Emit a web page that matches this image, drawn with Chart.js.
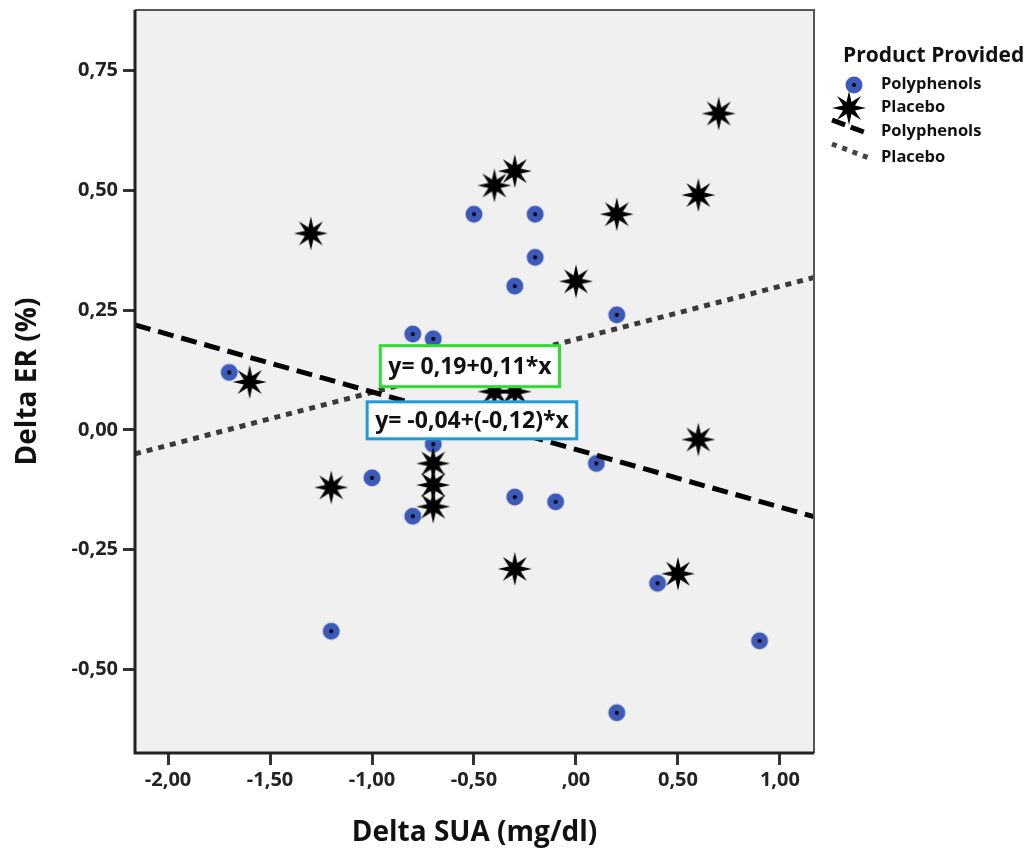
<!DOCTYPE html>
<html>
<head>
<meta charset="utf-8">
<script src="https://cdn.jsdelivr.net/npm/chart.js@4.4.1/dist/chart.umd.min.js"></script>
<style>
  html, body { margin: 0; padding: 0; background: #fff; }
  #wrap { width: 1034px; height: 856px; position: relative; }
</style>
</head>
<body>
<div id="wrap"><canvas id="myChart" width="1034" height="856"></canvas></div>
<script>
// values
const polyX = [-1.7, -0.8, -0.7, -0.5, -0.2, -0.2, -0.3, 0.2, -1.0, -0.8, -0.7, -0.3, -0.1, 0.1, 0.4, -1.2, 0.9, 0.2];
const polyY = [0.12, 0.20, 0.19, 0.45, 0.45, 0.36, 0.30, 0.24, -0.10, -0.18, -0.03, -0.14, -0.15, -0.07, -0.32, -0.42, -0.44, -0.59];

const placeboX = [-1.3, -0.4, -0.3, 0.7, 0.6, 0.2, 0.0, -1.6, -0.4, -0.3, -0.2, -1.2, -0.7, -0.7, -0.7, -0.3, 0.5, 0.6];
const placeboY = [0.41, 0.51, 0.54, 0.66, 0.49, 0.45, 0.31, 0.10, 0.08, 0.08, 0.14, -0.12, -0.07, -0.115, -0.16, -0.29, -0.30, -0.02];

// fit line end points (at the plot edges)
const polyFitX = [-2.162, 1.167];
const polyFitY = [0.219, -0.181];
const placeboFitX = [-2.162, 1.167];
const placeboFitY = [-0.05, 0.318];

const fitLabels = ['y= 0,19+0,11*x', 'y= -0,04+(-0,12)*x'];
const fitLabelX = [-0.52, -0.51];
const fitLabelY = [0.133, 0.02];

const xTicks = [-2, -1.5, -1, -0.5, 0, 0.5, 1];
const xTickLabels = ['-2,00', '-1,50', '-1,00', '-0,50', ',00', '0,50', '1,00'];
const yTicks = [-0.5, -0.25, 0, 0.25, 0.5, 0.75];
const yTickLabels = ['-0,50', '-0,25', '0,00', '0,25', '0,50', '0,75'];

const legendLabels = ['Polyphenols', 'Placebo', 'Polyphenols', 'Placebo'];

const FONT = "'Open Sans', 'DejaVu Sans', sans-serif";
const BLUE = '#3d5ab8';

const makeDot = () => {
  const c = document.createElement('canvas');
  c.width = 20; c.height = 20;
  const g = c.getContext('2d');
  g.fillStyle = BLUE;
  g.beginPath(); g.arc(10, 10, 8.5, 0, Math.PI * 2); g.fill();
  g.fillStyle = '#000';
  g.beginPath(); g.arc(10, 10, 2, 0, Math.PI * 2); g.fill();
  return c;
};

const makeStar = () => {
  const c = document.createElement('canvas');
  c.width = 36; c.height = 36;
  const g = c.getContext('2d');
  g.fillStyle = '#000';
  g.beginPath();
  for (let i = 0; i < 16; i++) {
    const r = i % 2 === 0 ? 17 : 6.5;
    const a = i * Math.PI / 8 - Math.PI / 2;
    const px = 18 + r * Math.cos(a), py = 18 + r * Math.sin(a);
    if (i === 0) g.moveTo(px, py); else g.lineTo(px, py);
  }
  g.closePath();
  g.fill();
  return c;
};

const dotImg = makeDot();
const starImg = makeStar();

const toPoints = (xs, ys) => xs.map((x, i) => ({ x: x, y: ys[i] }));

// grey plot background and frame
const framePlugin = {
  id: 'frame',
  beforeDatasetsDraw(chart) {
    const { ctx, chartArea: a } = chart;
    ctx.save();
    ctx.fillStyle = '#f0f0f0';
    ctx.fillRect(a.left, a.top, a.right - a.left, a.bottom - a.top);
    ctx.restore();
  },
  afterDatasetsDraw(chart) {
    const { ctx, chartArea: a } = chart;
    ctx.save();
    ctx.lineWidth = 2;
    ctx.strokeStyle = '#555';
    ctx.beginPath();
    ctx.moveTo(a.left, a.top); ctx.lineTo(a.right, a.top); ctx.lineTo(a.right, a.bottom);
    ctx.stroke();
    ctx.lineWidth = 3;
    ctx.strokeStyle = '#222';
    ctx.beginPath();
    ctx.moveTo(a.left, a.top); ctx.lineTo(a.left, a.bottom); ctx.lineTo(a.right, a.bottom);
    ctx.stroke();
    ctx.restore();
  }
};

// equation boxes over the fit lines
const fitLabelPlugin = {
  id: 'fitLabels',
  afterDatasetsDraw(chart) {
    const { ctx, scales } = chart;
    const colors = ['#2fdc2f', '#1e9bd8'];
    ctx.save();
    ctx.font = 'bold 23px ' + FONT;
    ctx.textBaseline = 'middle';
    ctx.textAlign = 'center';
    fitLabels.forEach((txt, i) => {
      const cx = scales.x.getPixelForValue(fitLabelX[i]);
      const cy = scales.y.getPixelForValue(fitLabelY[i]);
      const w = ctx.measureText(txt).width + 16;
      const h = i === 0 ? 41 : 37;
      ctx.fillStyle = '#fff';
      ctx.fillRect(cx - w / 2, cy - h / 2, w, h);
      ctx.lineWidth = 3;
      ctx.strokeStyle = colors[i];
      ctx.strokeRect(cx - w / 2, cy - h / 2, w, h);
      ctx.fillStyle = '#111';
      ctx.fillText(txt, cx, cy + 1);
    });
    ctx.restore();
  }
};

// legend on the right
const legendPlugin = {
  id: 'sideLegend',
  afterDraw(chart) {
    const { ctx } = chart;
    const x0 = chart.chartArea.right + 30;
    ctx.save();
    ctx.fillStyle = '#111';
    ctx.textBaseline = 'middle';
    ctx.textAlign = 'left';
    ctx.font = 'bold 21px ' + FONT;
    ctx.fillText('Product Provided', x0 - 1, 56);

    ctx.drawImage(dotImg, x0, 75);
    ctx.drawImage(starImg, x0 - 13, 90);

    ctx.lineWidth = 5;
    ctx.strokeStyle = '#000';
    ctx.setLineDash([14, 6]);
    ctx.beginPath(); ctx.moveTo(x0 - 12, 120); ctx.lineTo(x0 + 25, 134); ctx.stroke();
    ctx.strokeStyle = '#444';
    ctx.setLineDash([5, 6]);
    ctx.beginPath(); ctx.moveTo(x0 - 12, 144); ctx.lineTo(x0 + 25, 158); ctx.stroke();
    ctx.setLineDash([]);

    ctx.fillStyle = '#111';
    ctx.font = 'bold 16.5px ' + FONT;
    const ys = [84, 107, 131, 157];
    legendLabels.forEach((t, i) => ctx.fillText(t, x0 + 37, ys[i]));
    ctx.restore();
  }
};

new Chart('myChart', {
  type: 'scatter',
  data: {
    datasets: [{
      label: 'Polyphenols fit',
      type: 'line',
      data: toPoints(polyFitX, polyFitY),
      borderColor: '#000',
      borderWidth: 5,
      borderDash: [16, 8],
      pointRadius: 0,
      fill: false,
      order: 0
    }, {
      label: 'Placebo fit',
      type: 'line',
      data: toPoints(placeboFitX, placeboFitY),
      borderColor: '#3a3a3a',
      borderWidth: 5,
      borderDash: [6, 6],
      pointRadius: 0,
      fill: false,
      order: 0
    }, {
      label: 'Placebo',
      data: toPoints(placeboX, placeboY),
      pointStyle: starImg,
      pointRadius: 17,
      order: 1
    }, {
      label: 'Polyphenols',
      data: toPoints(polyX, polyY),
      pointStyle: dotImg,
      pointRadius: 9,
      order: 2
    }]
  },
  options: {
    responsive: false,
    animation: false,
    events: [],
    layout: { autoPadding: false, padding: { top: 10, right: 220, left: 0, bottom: 0 } },
    plugins: { legend: { display: false }, tooltip: { enabled: false } },
    scales: {
      x: {
        type: 'linear',
        min: -2.162,
        max: 1.167,
        afterBuildTicks: s => { s.ticks = xTicks.map(v => ({ value: v })); },
        afterFit: s => { s.height = 103; s.paddingLeft = 0; s.paddingRight = 0; },
        grid: { drawOnChartArea: false, tickLength: 12, tickWidth: 3, tickColor: '#333' },
        border: { display: false },
        ticks: {
          autoSkip: false, maxRotation: 0, padding: 3, color: '#222',
          font: { family: FONT, size: 20, weight: 'bold' },
          callback: (v, i) => xTickLabels[i]
        },
        title: {
          display: true, text: 'Delta SUA (mg/dl)', color: '#111',
          font: { family: FONT, size: 28, weight: 'bold' },
          padding: { top: 0, bottom: 6 }
        }
      },
      y: {
        type: 'linear',
        min: -0.674,
        max: 0.876,
        afterBuildTicks: s => { s.ticks = yTicks.map(v => ({ value: v })); },
        afterFit: s => { s.width = 135; s.paddingTop = 0; s.paddingBottom = 0; },
        grid: { drawOnChartArea: false, tickLength: 12, tickWidth: 3, tickColor: '#333' },
        border: { display: false },
        ticks: {
          autoSkip: false, padding: 5, color: '#222',
          font: { family: FONT, size: 20, weight: 'bold' },
          callback: (v, i) => yTickLabels[i]
        },
        title: {
          display: true, text: 'Delta ER (%)', color: '#111',
          font: { family: FONT, size: 28, weight: 'bold' },
          padding: { top: 11, bottom: 0 }
        }
      }
    }
  },
  plugins: [framePlugin, fitLabelPlugin, legendPlugin]
});
</script>
</body>
</html>
